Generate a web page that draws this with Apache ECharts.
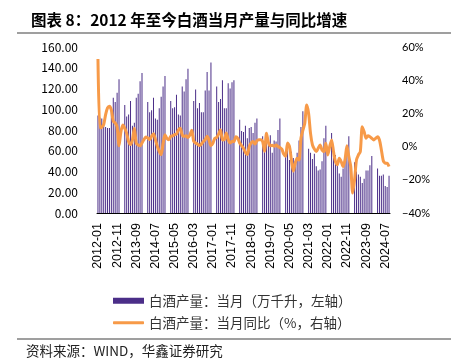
<!DOCTYPE html>
<html>
<head>
<meta charset="utf-8">
<script src="https://cdn.jsdelivr.net/npm/echarts@6/dist/echarts.min.js"></script>
<style>
    html, body { margin: 0; padding: 0; background: #fff; }
    #chart { width: 451px; height: 364px; }
</style>
</head>
<body>
<div id="chart"></div>
<script>
// 白酒产量：当月（万千升），1、2 月无单月数据
const prod2012 = [94, 92, 91, 89, 83, 82, 82, 102, 111, 107, 116, 129];
const prod2013 = [null, null, 104, 93, 95, 108, 84, 87, 111, 115, 127, 135];
const prod2014 = [null, null, 107, 97, 99, 111, 91, 90, 101, 112, 122, 132];
const prod2015 = [null, null, 108, 101, 102, 114, 95, 94, 122, 117, 129, 139];
const prod2016 = [null, null, 108, 119, 101, 106, 97, 97, 118, 136, 118, 145];
const prod2017 = [null, null, 122, 107, 110, 128, 101, 101, 125, 120, 126, 128];
const prod2018 = [null, null, 90, 79, 78, 84, 72, 82, 83, 77, 87, 91];
const prod2019 = [null, null, 74, 69, 78, 67, 75, 58, 70, 69, 80, 91];
const prod2020 = [null, null, 60, 62, 51, 59, 53, 50, 58, 70, 83, 98];
const prod2021 = [null, null, 62, 58, 52, 57, 45, 41, 42, 50, 72, 84];
const prod2022 = [null, null, 77, 59, 56, 48, 38, 35, 43, 51, 57, 74];
const prod2023 = [null, null, 49, 40, 37, 35, 29, 33, 41, 41, 46, 55];
const prod2024 = [null, null, 43, 36, 36, 37, 26, 25, 36];

// 白酒产量：当月同比（%）
const yoy2012 = [52.8, 11.3, 11.8, 13.3, 19.3, 23.3, 24.3, 22, 15.3, 14.3, 11.8, 0.5];
const yoy2013 = [9, 13, 11, 8, 3, 1.2, 4, 11, 2, 1, 0.5, 2.2];
const yoy2014 = [4.2, 5.8, 5.2, 4.2, 6.2, 7.8, 4.2, 0.2, -2.8, -4.8, 1.8, 7.2];
const yoy2015 = [5, 4.2, 6.2, 6.5, 7.2, 7.5, 10, 11, 7, 6.2, 6.5, 5.5];
const yoy2016 = [7, 9.8, 3.2, 2.2, 1.5, 0.6, 1.5, 3, 4.2, 6.2, 4, 0.6];
const yoy2017 = [2, 5, 5.5, 7.5, 10.2, 4, 4.2, 8.2, 4.2, 2.2, 3, 3];
const yoy2018 = [6, 5, 2.2, 0.6, -1, -3.5, -4.8, 0, 2.2, 3, 1.5, 3.5];
const yoy2019 = [4.2, 4.2, 3, -2.8, 8, 2.5, 0.5, 0.8, 0.2, 1, 0, -0.5];
const yoy2020 = [-1.5, -4.5, -5.8, 2.2, 0.2, -8, -14.8, -10, -7, -8, 5, 9.8];
const yoy2021 = [14, 25, 20, 8, 1, -1.5, -3, -1, 1, -2, -3, 2];
const yoy2022 = [-5, 0, 4, -3, -9, -11, -7, -9, -12, -8, 0.5, -6];
const yoy2023 = [-12, -28, -20, -8, -5, -3, 12, 9, 5, 6.5, 6, 5];
const yoy2024 = [4, 5, 6, 4, -2, -8.5, -10, -10, -12];

const startYear = 2012;
const prodData = [].concat(prod2012, prod2013, prod2014, prod2015, prod2016, prod2017,
    prod2018, prod2019, prod2020, prod2021, prod2022, prod2023, prod2024);
const yoyData = [].concat(yoy2012, yoy2013, yoy2014, yoy2015, yoy2016, yoy2017,
    yoy2018, yoy2019, yoy2020, yoy2021, yoy2022, yoy2023, yoy2024);

// 月份标签 2012-01 ...
const months = [];
for (let i = 0; i < yoyData.length; i++) {
    const y = startYear + Math.floor(i / 12);
    const m = (i % 12) + 1;
    months.push(y + '-' + (m < 10 ? '0' + m : m));
}

const barName = '白酒产量：当月（万千升，左轴）';
const lineName = '白酒产量：当月同比（%，右轴）';
const cjk = '"Noto Sans CJK SC", sans-serif';

var chart = echarts.init(document.getElementById('chart'), null, { renderer: 'canvas' });

var option = {
    animation: false,
    title: {
        text: '图表 8：2012 年至今白酒当月产量与同比增速',
        left: 26,
        top: 7,
        textStyle: { fontFamily: cjk, fontSize: 15.5, fontWeight: 'bold', color: '#000' }
    },
    legend: [
        {
            data: [{ name: barName, icon: 'rect' }],
            left: 108,
            top: 289,
            itemWidth: 31,
            itemHeight: 6,
            textStyle: { fontFamily: cjk, fontSize: 13.5, color: '#333' }
        },
        {
            data: [{ name: lineName, icon: 'roundRect' }],
            left: 108,
            top: 311,
            itemWidth: 31,
            itemHeight: 3,
            textStyle: { fontFamily: cjk, fontSize: 13.5, color: '#333' }
        }
    ],
    grid: { left: 97, right: 61, top: 47, bottom: 151 },
    xAxis: {
        type: 'category',
        data: months,
        boundaryGap: true,
        axisLine: { lineStyle: { color: '#000', width: 1 } },
        axisTick: { inside: true, length: 4, interval: 9, alignWithLabel: true, lineStyle: { color: '#000', width: 1.5 } },
        axisLabel: {
            interval: 9,
            rotate: 90,
            margin: 10,
            fontFamily: 'Liberation Sans, sans-serif',
            fontSize: 12.5,
            color: '#000'
        }
    },
    yAxis: [
        {
            type: 'value',
            min: 0,
            max: 160,
            interval: 20,
            axisLine: { show: false },
            axisTick: { show: false },
            splitLine: { show: false },
            axisLabel: {
                margin: 19,
                fontFamily: cjk,
                fontSize: 12,
                color: '#000',
                formatter: function (v) { return v.toFixed(2); }
            }
        },
        {
            type: 'value',
            min: -40,
            max: 60,
            interval: 20,
            axisLine: { show: false },
            axisTick: { show: false },
            splitLine: { show: false },
            axisLabel: {
                margin: 12,
                fontFamily: 'Lato, sans-serif',
                fontSize: 11,
                color: '#000',
                formatter: function (v) { return (v < 0 ? '\u2212' + (-v) : v) + '%'; }
            }
        }
    ],
    series: [
        {
            name: barName,
            type: 'bar',
            yAxisIndex: 0,
            data: prodData,
            barWidth: 1,
            itemStyle: { color: '#4b2e88' }
        },
        {
            name: lineName,
            type: 'line',
            yAxisIndex: 1,
            data: yoyData,
            smooth: 0.25,
            showSymbol: false,
            symbol: 'none',
            lineStyle: { color: '#f79a48', width: 3 },
            itemStyle: { color: '#f79a48' }
        }
    ],
    graphic: [
        {
            type: 'line',
            shape: { x1: 17, y1: 33, x2: 451, y2: 33 },
            style: { stroke: '#7f7f7f', lineWidth: 1.5 }
        },
        {
            type: 'line',
            shape: { x1: 17, y1: 339, x2: 451, y2: 339 },
            style: { stroke: '#7f7f7f', lineWidth: 1.5 }
        },
        {
            type: 'text',
            left: 26,
            top: 344,
            style: { text: '资料来源：WIND，华鑫证券研究', font: '13.5px "Noto Sans CJK SC"', fill: '#222' }
        }
    ]
};

chart.setOption(option);
</script>
</body>
</html>
